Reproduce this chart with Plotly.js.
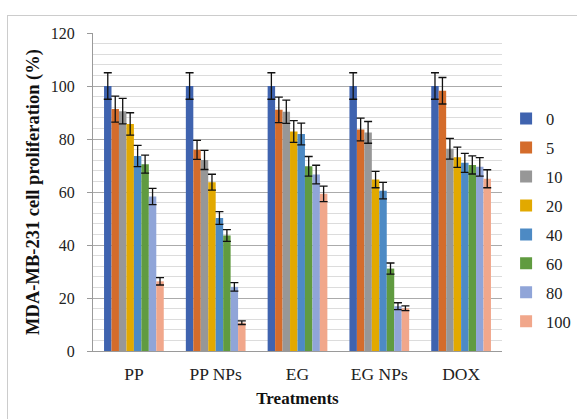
<!DOCTYPE html>
<html>
<head>
<meta charset="utf-8">
<script src="https://cdn.plot.ly/plotly-3.0.1.min.js"></script>
<style>
html,body{margin:0;padding:0;background:#fff;overflow:hidden;}
#wrap{position:relative;width:577px;height:419px;}
#chart{position:absolute;left:0;top:0;width:577px;height:419px;}
#frame{position:absolute;left:7px;top:15px;width:620px;height:460px;border:1.5px solid #cccccc;pointer-events:none;}
</style>
</head>
<body>
<div id="wrap"><div id="chart"></div><div id="frame"></div></div>
<script>
const categories = ["PP", "PP NPs", "EG", "EG NPs", "DOX"];
const seriesNames = ["0", "5", "10", "20", "40", "60", "80", "100"];
const colors = ["#3F63AF", "#D46C2B", "#979797", "#E2A900", "#4D8AC4", "#609B40", "#90A5D8", "#F1A78B"];

const v0   = [100, 100, 100, 100, 100];
const v5   = [91.3, 75.9, 91.0, 83.6, 98.2];
const v10  = [90.5, 72.1, 90.3, 82.5, 76.3];
const v20  = [85.7, 63.7, 82.8, 64.7, 73.1];
const v40  = [73.6, 50.2, 81.9, 60.5, 71.0];
const v60  = [70.5, 43.6, 69.7, 31.1, 70.2];
const v80  = [58.3, 24.2, 66.6, 16.9, 69.5];
const v100 = [26.3, 10.7, 59.3, 16.1, 65.0];

const e0   = [5, 5, 5, 5, 5];
const e5   = [4.9, 3.6, 4.8, 4.3, 5.0];
const e10  = [4.8, 3.6, 4.4, 4.1, 3.9];
const e20  = [4.2, 3.0, 4.1, 3.1, 3.8];
const e40  = [4.0, 2.4, 4.1, 3.1, 3.6];
const e60  = [3.4, 2.2, 3.7, 2.1, 3.4];
const e80  = [3.1, 1.6, 3.5, 1.3, 3.5];
const e100 = [1.4, 0.7, 2.9, 0.9, 3.4];

const values = [v0, v5, v10, v20, v40, v60, v80, v100];
const errors = [e0, e5, e10, e20, e40, e60, e80, e100];

const yTickVals = [0, 20, 40, 60, 80, 100, 120];
const yTickText = ["0", "20", "40", "60", "80", "100", "120"];

const fontFam = "'Liberation Serif', 'Times New Roman', serif";

const traces = seriesNames.map((name, i) => ({
  type: "bar",
  name: name,
  x: categories,
  y: values[i],
  legendgroup: "g" + i,
  marker: {color: colors[i], line: {width: 0}},
  error_y: {type: "data", array: errors[i], visible: true, color: "#111", thickness: 1.3, width: 4}
}));

const layout = {
  width: 577,
  height: 419,
  margin: {l: 93, r: 75, t: 33, b: 68, autoexpand: false},
  paper_bgcolor: "#ffffff",
  plot_bgcolor: "#ffffff",
  barmode: "group",
  bargap: 0.27,
  bargroupgap: 0,
  font: {family: fontFam, size: 16, color: "#222"},
  showlegend: true,
  legend: {
    x: 1.01, xanchor: "left", y: 0.785, yanchor: "top",
    font: {family: fontFam, size: 16.5, color: "#222"},
    traceorder: "grouped",
    tracegroupgap: 4.5,
    itemwidth: 30,
    bgcolor: "rgba(0,0,0,0)"
  },
  xaxis: {
    type: "category",
    showline: true, linecolor: "#9a9a9a", linewidth: 1,
    ticks: "", showgrid: false,
    tickfont: {family: fontFam, size: 17.5, color: "#222"},
    ticklabelstandoff: 7,
    title: {text: "<b>Treatments</b>", font: {family: fontFam, size: 17, color: "#111"}, standoff: 9}
  },
  yaxis: {
    range: [0, 120],
    tickvals: yTickVals, ticktext: yTickText,
    showline: true, linecolor: "#9a9a9a", linewidth: 1,
    ticks: "outside", ticklen: 5, tickcolor: "#9a9a9a",
    showgrid: true, gridcolor: "#ababab", gridwidth: 1,
    minor: {dtick: 4, showgrid: true, gridcolor: "#dcdcdc", gridwidth: 1, ticks: ""},
    zeroline: false,
    tickfont: {family: fontFam, size: 16, color: "#222"},
    ticklabelstandoff: 9,
    title: {text: "<b>MDA-MB-231 cell proliferation (%)</b>", font: {family: fontFam, size: 18.5, color: "#111"}, standoff: 6}
  }
};

Plotly.newPlot("chart", traces, layout, {displayModeBar: false, staticPlot: true});
</script>
</body>
</html>
